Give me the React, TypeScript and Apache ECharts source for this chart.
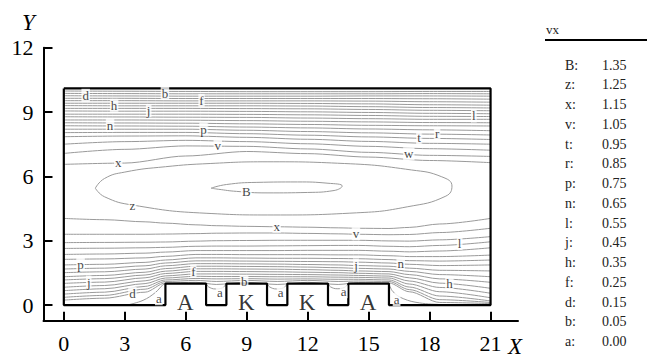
import React, { useEffect, useRef } from "react";
import * as echarts from "echarts";

const FONT = "Liberation Serif";

// axes
const X_TICKS = [0, 3, 6, 9, 12, 15, 18, 21];
const Y_TICKS = [0, 3, 6, 9, 12];

// channel geometry
const CHANNEL_LENGTH = 21;
const CHANNEL_HEIGHT = 10.1;
const BLOCK_HEIGHT = 1;
const BLOCK_SPANS = [
  [5, 7],
  [8, 10],
  [11, 13],
  [14, 16],
];
const BLOCK_NAMES = ["A", "K", "K", "A"];

// contour level legend
const LEVEL_KEYS = ["B", "z", "x", "v", "t", "r", "p", "n", "l", "j", "h", "f", "d", "b", "a"];
const LEVEL_VALUES = ["1.35", "1.25", "1.15", "1.05", "0.95", "0.85", "0.75", "0.65", "0.55", "0.45", "0.35", "0.25", "0.15", "0.05", "0.00"];

// contours between the core and the upper wall (top to bottom)
const UPPER_X = [0, 3, 6, 9, 12, 15, 18, 21];
const UPPER_Y = [
  [9.98, 9.97, 9.96, 9.95, 9.95, 9.95, 9.96, 9.96],
  [9.87, 9.86, 9.85, 9.85, 9.85, 9.85, 9.86, 9.85],
  [9.76, 9.75, 9.74, 9.74, 9.74, 9.75, 9.75, 9.74],
  [9.64, 9.64, 9.63, 9.63, 9.63, 9.63, 9.62, 9.6],
  [9.53, 9.53, 9.52, 9.52, 9.52, 9.51, 9.48, 9.46],
  [9.41, 9.41, 9.41, 9.41, 9.4, 9.38, 9.34, 9.32],
  [9.3, 9.29, 9.29, 9.29, 9.28, 9.25, 9.21, 9.19],
  [9.17, 9.17, 9.17, 9.16, 9.15, 9.12, 9.08, 9.06],
  [9.05, 9.04, 9.04, 9.03, 9.01, 8.98, 8.94, 8.92],
  [8.9, 8.9, 8.9, 8.89, 8.87, 8.84, 8.8, 8.79],
  [8.78, 8.77, 8.76, 8.75, 8.72, 8.69, 8.66, 8.66],
  [8.63, 8.63, 8.62, 8.6, 8.57, 8.54, 8.51, 8.5],
  [8.5, 8.49, 8.48, 8.45, 8.42, 8.38, 8.36, 8.35],
  [8.36, 8.35, 8.34, 8.3, 8.26, 8.21, 8.17, 8.13],
  [8.2, 8.2, 8.2, 8.15, 8.09, 8.03, 7.97, 7.93],
  [8.04, 8.05, 8.05, 7.99, 7.92, 7.84, 7.77, 7.72],
  [7.85, 7.88, 7.89, 7.82, 7.73, 7.63, 7.54, 7.5],
  [7.5, 7.62, 7.68, 7.62, 7.52, 7.4, 7.29, 7.22],
  [7.07, 7.26, 7.42, 7.4, 7.28, 7.12, 6.98, 6.93],
  [6.56, 6.62, 6.95, 7.16, 7.06, 6.9, 6.74, 6.64],
];

// contours between the lower wall / blocks and the core (bottom to top)
const LOWER_X = [0, 2, 4, 5, 6.5, 7.5, 9, 10.5, 12, 13.5, 14.5, 16, 17, 18.5, 21];
const LOWER_Y = [
  [0.23, 0.32, 0.6, 1.03, 1.06, 0.96, 1.06, 0.96, 1.06, 0.96, 1.05, 1.03, 0.62, 0.12, 0.07],
  [0.36, 0.45, 0.74, 1.1, 1.15, 1.1, 1.15, 1.1, 1.15, 1.1, 1.12, 1.1, 0.72, 0.25, 0.12],
  [0.51, 0.6, 0.87, 1.17, 1.24, 1.22, 1.23, 1.21, 1.22, 1.2, 1.2, 1.17, 0.84, 0.42, 0.19],
  [0.67, 0.76, 1.0, 1.26, 1.34, 1.33, 1.33, 1.32, 1.32, 1.3, 1.29, 1.26, 0.98, 0.62, 0.34],
  [0.83, 0.91, 1.13, 1.36, 1.45, 1.45, 1.44, 1.43, 1.42, 1.4, 1.38, 1.35, 1.12, 0.82, 0.55],
  [1.01, 1.07, 1.27, 1.47, 1.57, 1.57, 1.56, 1.55, 1.53, 1.51, 1.48, 1.45, 1.27, 1.02, 0.78],
  [1.17, 1.23, 1.4, 1.58, 1.69, 1.69, 1.68, 1.67, 1.65, 1.62, 1.59, 1.56, 1.42, 1.22, 1.06],
  [1.32, 1.38, 1.53, 1.7, 1.81, 1.81, 1.8, 1.79, 1.77, 1.74, 1.71, 1.68, 1.57, 1.42, 1.32],
  [1.51, 1.55, 1.68, 1.83, 1.93, 1.93, 1.92, 1.91, 1.89, 1.87, 1.84, 1.81, 1.72, 1.62, 1.59],
  [1.68, 1.72, 1.83, 1.96, 2.06, 2.06, 2.05, 2.04, 2.03, 2.02, 2.0, 1.96, 1.9, 1.84, 1.87],
  [1.87, 1.9, 1.99, 2.1, 2.2, 2.2, 2.19, 2.18, 2.18, 2.17, 2.16, 2.12, 2.07, 2.05, 2.1],
  [2.13, 2.15, 2.2, 2.27, 2.36, 2.36, 2.35, 2.35, 2.35, 2.34, 2.34, 2.3, 2.26, 2.26, 2.33],
  [2.36, 2.38, 2.42, 2.47, 2.54, 2.54, 2.54, 2.54, 2.55, 2.55, 2.55, 2.51, 2.48, 2.52, 2.67],
  [2.64, 2.65, 2.67, 2.69, 2.74, 2.75, 2.75, 2.76, 2.77, 2.78, 2.78, 2.74, 2.72, 2.78, 2.95],
  [2.91, 2.92, 2.93, 2.94, 2.98, 3.0, 3.01, 3.02, 3.02, 3.02, 3.02, 2.99, 2.98, 3.04, 3.19],
  [3.3, 3.3, 3.3, 3.31, 3.33, 3.35, 3.36, 3.36, 3.34, 3.32, 3.3, 3.28, 3.29, 3.38, 3.58],
  [4.04, 3.98, 3.88, 3.82, 3.74, 3.7, 3.67, 3.65, 3.63, 3.6, 3.58, 3.57, 3.62, 3.78, 4.04],
];

// closed contours of the core flow
const Z_LOOP = [
  [1.55, 5.45], [2.0, 5.9], [3.0, 6.2], [5.0, 6.45], [7.2, 6.6], [10, 6.68], [13.8, 6.6],
  [17.1, 6.3], [18.6, 5.98], [19.1, 5.55], [18.8, 5.08], [16.9, 4.58], [14.4, 4.3],
  [10.3, 4.2], [7.0, 4.28], [3.4, 4.66], [2.0, 5.05], [1.55, 5.45],
];
const B_LOOP = [
  [7.25, 5.45], [8.0, 5.62], [9.5, 5.72], [11.5, 5.74], [13.0, 5.68], [13.7, 5.55],
  [13.3, 5.34], [12.0, 5.25], [10.0, 5.23], [8.5, 5.3], [7.6, 5.4], [7.25, 5.45],
];

// zero-level contours next to the blocks
const BUBBLE_BEFORE = [[3.2, 0.02], [3.9, 0.22], [4.5, 0.58], [4.85, 0.92], [5.0, 1.0]];
const BUBBLE_AFTER = [[16.0, 1.0], [16.2, 0.62], [16.7, 0.3], [17.5, 0.1], [18.4, 0.03]];
const GAP_DIPS = [
  [[7, 1], [7.12, 0.85], [7.45, 0.75], [7.8, 0.8], [8, 1]],
  [[10, 1], [10.12, 0.85], [10.45, 0.75], [10.8, 0.8], [11, 1]],
  [[13, 1], [13.12, 0.85], [13.45, 0.76], [13.8, 0.82], [14, 1]],
];

// contour labels placed on lines: [text, line index, x]
const UPPER_LABELS: [string, number, number][] = [
  ["d", 2, 1.1], ["b", 1, 5.0], ["h", 6, 2.5], ["j", 8, 4.2], ["f", 4, 6.8],
  ["n", 13, 2.3], ["p", 14, 6.9], ["v", 18, 7.6], ["x", 19, 2.7],
  ["l", 9, 20.2], ["t", 15, 17.5], ["r", 14, 18.4], ["w", 18, 17.0],
];
const LOWER_LABELS: [string, number, number][] = [
  ["p", 10, 0.85], ["j", 5, 1.25], ["d", 0, 3.4], ["f", 5, 6.4], ["b", 0, 8.9],
  ["x", 16, 10.5], ["v", 15, 14.4], ["j", 8, 14.4], ["n", 9, 16.6],
  ["h", 5, 19.0], ["l", 13, 19.5],
];
// labels of closed and zero-level contours: [text, x, y]
const FREE_LABELS: [string, number, number][] = [
  ["z", 3.4, 4.64], ["B", 9.0, 5.26],
  ["a", 4.7, 0.27], ["a", 7.7, 0.57], ["a", 10.7, 0.57], ["a", 13.8, 0.6], ["a", 16.4, 0.23],
];

function yAt(xs: number[], ys: number[], x: number): number {
  for (let i = 0; i < xs.length - 1; i++) {
    if (x >= xs[i] && x <= xs[i + 1]) {
      const t = (x - xs[i]) / (xs[i + 1] - xs[i]);
      return ys[i] + t * (ys[i + 1] - ys[i]);
    }
  }
  return ys[ys.length - 1];
}

function buildWall(): number[][] {
  const pts: number[][] = [
    [0, CHANNEL_HEIGHT],
    [CHANNEL_LENGTH, CHANNEL_HEIGHT],
    [CHANNEL_LENGTH, 0],
  ];
  for (let i = BLOCK_SPANS.length - 1; i >= 0; i--) {
    const [s, e] = BLOCK_SPANS[i];
    pts.push([e, 0], [e, BLOCK_HEIGHT], [s, BLOCK_HEIGHT], [s, 0]);
  }
  pts.push([0, 0], [0, CHANNEL_HEIGHT]);
  return pts;
}

const LINE_COLOR = "#9a9a9a";
const HIDDEN = "rgba(0,0,0,0)";

function contour(data: number[][], smooth: number, monotone: boolean) {
  return {
    type: "line",
    data,
    smooth,
    smoothMonotone: monotone ? "x" : undefined,
    showSymbol: false,
    symbol: "none",
    silent: true,
    lineStyle: { color: LINE_COLOR, width: 1 },
    z: 2,
  };
}

function font(size: number, italic = false) {
  return `${italic ? "italic " : ""}${size}px "${FONT}", serif`;
}

export default function App() {
  const ref = useRef<HTMLDivElement>(null);

  useEffect(() => {
    if (!ref.current) return;
    const chart = echarts.init(ref.current, null, { renderer: "svg" });

    const series: any[] = [];
    UPPER_Y.forEach((row) => series.push(contour(UPPER_X.map((x, i) => [x, row[i]]), 0.3, true)));
    LOWER_Y.forEach((row) => series.push(contour(LOWER_X.map((x, i) => [x, row[i]]), 0.3, true)));
    series.push(contour(Z_LOOP, 0.5, false));
    series.push(contour(B_LOOP, 0.5, false));
    series.push(contour(BUBBLE_BEFORE, 0.4, false));
    series.push(contour(BUBBLE_AFTER, 0.4, false));
    GAP_DIPS.forEach((g) => series.push(contour(g, 0.4, false)));

    // channel walls and blocks
    series.push({
      type: "line",
      data: buildWall(),
      showSymbol: false,
      symbol: "none",
      silent: true,
      lineStyle: { color: "#000", width: 2.2 },
      z: 5,
    });

    const labelData = [
      ...UPPER_LABELS.map(([t, li, x]) => ({ name: t, value: [x, yAt(UPPER_X, UPPER_Y[li], x)] })),
      ...LOWER_LABELS.map(([t, li, x]) => ({ name: t, value: [x, yAt(LOWER_X, LOWER_Y[li], x)] })),
      ...FREE_LABELS.map(([t, x, y]) => ({ name: t, value: [x, y] })),
    ];
    series.push({
      type: "scatter",
      data: labelData,
      symbolSize: 1,
      itemStyle: { color: HIDDEN },
      silent: true,
      label: {
        show: true,
        position: [0, 0],
        align: "center",
        verticalAlign: "middle",
        formatter: "{b}",
        fontSize: 13,
        fontFamily: FONT,
        color: "#111",
        backgroundColor: "#fff",
        padding: [0, 1],
      },
      z: 8,
    });

    series.push({
      type: "scatter",
      data: BLOCK_SPANS.map(([s, e], i) => ({ name: BLOCK_NAMES[i], value: [(s + e) / 2, 0.1] })),
      symbolSize: 1,
      itemStyle: { color: HIDDEN },
      silent: true,
      label: {
        show: true,
        position: [0, 0],
        align: "center",
        verticalAlign: "middle",
        formatter: "{b}",
        fontSize: 23,
        fontFamily: FONT,
        color: "#000",
      },
      z: 8,
    });

    const rowStart = 65;
    const rowStep = 19.76;
    const legend: any[] = [
      {
        type: "text",
        x: 546,
        y: 29,
        style: { text: "vx", font: font(13), fill: "#222", verticalAlign: "middle" },
      },
      {
        type: "line",
        shape: { x1: 545, y1: 40, x2: 647, y2: 40 },
        style: { stroke: "#000", lineWidth: 2 },
      },
    ];
    LEVEL_KEYS.forEach((k, i) => {
      const y = rowStart + i * rowStep;
      legend.push({
        type: "text",
        x: 565,
        y,
        style: { text: k + ":", font: font(14), fill: "#222", verticalAlign: "middle" },
      });
      legend.push({
        type: "text",
        x: 602,
        y,
        style: { text: LEVEL_VALUES[i], font: font(14), fill: "#222", verticalAlign: "middle" },
      });
    });

    const axisNames = [
      {
        type: "text",
        x: 28.5,
        y: 22,
        style: { text: "Y", font: font(23, true), fill: "#000", align: "center", verticalAlign: "middle" },
      },
      {
        type: "text",
        x: 515,
        y: 346,
        style: { text: "X", font: font(23, true), fill: "#000", align: "center", verticalAlign: "middle" },
      },
    ];

    const tickLabel = {
      fontSize: 22,
      fontFamily: FONT,
      color: "#000",
    };

    chart.setOption({
      animation: false,
      backgroundColor: "#fff",
      textStyle: { fontFamily: FONT },
      grid: { left: 43.5, top: 47.7, width: 474.5, height: 273 },
      xAxis: {
        type: "value",
        min: -1,
        max: 22.35,
        axisLine: { show: true, onZero: false, lineStyle: { color: "#000", width: 2 } },
        axisTick: {
          show: true,
          inside: true,
          length: 9,
          customValues: X_TICKS,
          lineStyle: { color: "#000", width: 2 },
        },
        axisLabel: {
          customValues: X_TICKS,
          margin: 12,
          ...tickLabel,
        },
        splitLine: { show: false },
      },
      yAxis: {
        type: "value",
        min: -0.73,
        max: 12,
        axisLine: { show: true, onZero: false, lineStyle: { color: "#000", width: 2 } },
        axisTick: {
          show: true,
          inside: true,
          length: 9,
          customValues: Y_TICKS,
          lineStyle: { color: "#000", width: 2 },
        },
        axisLabel: {
          customValues: Y_TICKS,
          margin: 10,
          ...tickLabel,
        },
        splitLine: { show: false },
      },
      graphic: [...legend, ...axisNames],
      series,
    });

    return () => chart.dispose();
  }, []);

  return (
    <div
      ref={ref}
      style={{ position: "absolute", left: 0, top: 0, width: 647, height: 358, background: "#fff" }}
    />
  );
}
